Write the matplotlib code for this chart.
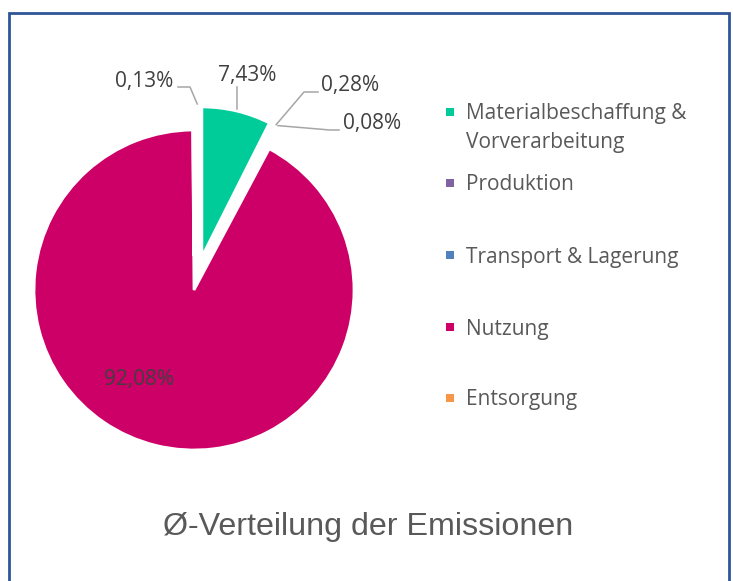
import matplotlib
matplotlib.use("Agg")
import matplotlib.pyplot as plt
import numpy as np

# ---- data ----
categories = ["Materialbeschaffung &\nVorverarbeitung", "Produktion",
              "Transport & Lagerung", "Nutzung", "Entsorgung"]
shares = [7.43, 0.28, 0.08, 92.08, 0.13]
value_labels = ["7,43%", "0,28%", "0,08%", "92,08%", "0,13%"]
colors = ["#00CC99", "#8064A2", "#4F81BD", "#CC0066", "#F79646"]
title = "Ø-Verteilung der Emissionen"

W, H = 733, 581
fig = plt.figure(figsize=(W / 100, H / 100), dpi=100)
ax = fig.add_axes([0, 0, 1, 1])

def Y(y):  # convert from top-based pixel position to axis coords
    return H - y

# ---- pie ----
cx, cy, R = 194, Y(290), 160
explode = [34, 34, 34, 0, 34]
wedges, _ = ax.pie(shares, colors=colors, startangle=90, counterclock=False,
                   center=(cx, cy), radius=R, explode=explode,
                   wedgeprops=dict(edgecolor="white", linewidth=2.0))
ax.set_xlim(0, W)
ax.set_ylim(0, H)
ax.set_aspect("auto")
ax.axis("off")
for w, e in zip(wedges, explode):
    if e:
        w.set_radius(R - 10)

def anchor(i, extra=2.0, dx=0.0):
    w = wedges[i]
    th = np.deg2rad((w.theta1 + w.theta2) / 2)
    return (w.center[0] + (w.r + extra) * np.cos(th) + dx,
            w.center[1] + (w.r + extra) * np.sin(th))

font = "Open Sans"
lab_col = "#404040"
line_col = "#A6A6A6"
fs_lab = 15

# label positions (top-based px)
label_pos = {0: (247, 75), 1: (350, 85), 2: (372, 124), 3: (139, 379), 4: (144, 82)}
for i, (lx, ly) in label_pos.items():
    ax.text(lx, Y(ly), value_labels[i], fontsize=fs_lab, family=font,
            color=lab_col, ha="center", va="center")

# leader lines
ax_, ay_ = anchor(0)
ax.plot([ax_, ax_], [Y(87), ay_], color=line_col, lw=1.1)
for i, start, elbow, dx in [(1, (318, 92), (304, 92), -3),
                            (2, (339, 130), (330, 130), -3),
                            (4, (178, 87), (190, 87), 4)]:
    px, py = anchor(i, dx=dx)
    ax.plot([start[0], elbow[0], px], [Y(start[1]), Y(elbow[1]), py],
            color=line_col, lw=1.1)

# ---- legend ----
leg_y = [128, 185, 257, 329, 400]
mark_y = [112, 183, 255, 327, 398]
fs_leg = 15
for cat, c, ty, my in zip(categories, colors, leg_y, mark_y):
    ax.scatter([450], [Y(my)], marker="s", s=36, color=c, linewidths=0)
    ax.text(466, Y(ty), cat, fontsize=fs_leg, family=font, color="#595959",
            ha="left", va="center", linespacing=1.48)

# ---- title ----
ax.text(368.5, Y(527), title, fontsize=23.2, family="Liberation Sans",
        color="#595959", ha="center", va="center")

# ---- border ----
ax.plot([9, 9, 729, 729], [-5, Y(13), Y(13), -5], color="#2F5597", lw=2.0,
        solid_joinstyle="miter", clip_on=False)

fig.savefig("out.png", dpi=100, facecolor="white")
